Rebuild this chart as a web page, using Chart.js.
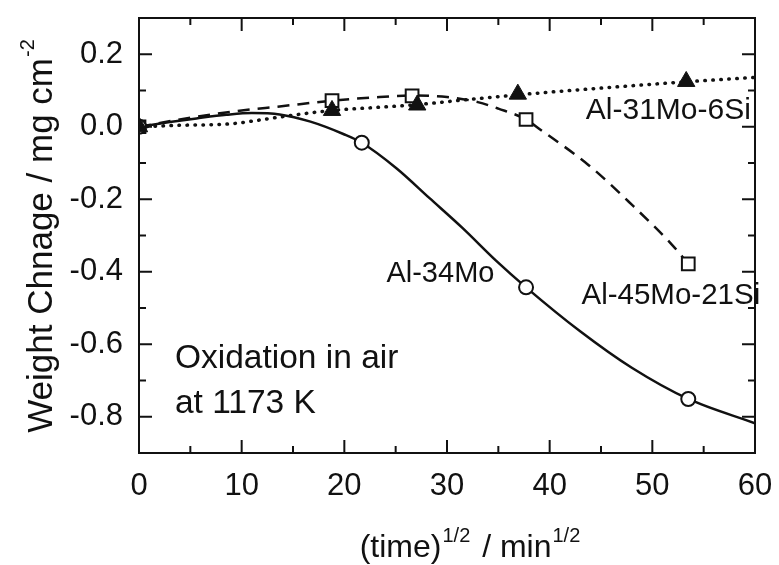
<!DOCTYPE html>
<html lang="en">

<head>
    <meta charset="UTF-8">
    <title>Weight change</title>
    <script src="https://cdn.jsdelivr.net/npm/chart.js@4.4.0/dist/chart.umd.min.js"></script>
    <style>
        html,
        body {
            margin: 0;
            background: #fff;
        }

        #wrap {
            width: 779px;
            height: 565px;
        }
    </style>
</head>

<body>
    <div id="wrap">
        <canvas id="myChart" width="779" height="565"></canvas>
    </div>
    <script>
        // axis ticks
        const xTicks = [0, 10, 20, 30, 40, 50, 60];
        const xMinor = [5, 15, 25, 35, 45, 55];
        const yTicks = [-0.8, -0.6, -0.4, -0.2, 0.0, 0.2];
        const yMinor = [-0.7, -0.5, -0.3, -0.1, 0.1];

        // measured points (x = sqrt time, y = weight change)
        const mo34X = [0, 21.7, 37.7, 53.5];
        const mo34Y = [0, -0.044, -0.443, -0.751];
        const mo45X = [0, 18.8, 26.6, 37.7, 53.5];
        const mo45Y = [0, 0.072, 0.085, 0.02, -0.378];
        const mo31X = [0, 18.8, 27.1, 36.9, 53.3];
        const mo31Y = [0, 0.045, 0.06, 0.09, 0.125];

        // fitted curves
        const fit34X = [0, 3, 5.6, 8.5, 11, 13.7, 16.7, 19.9, 21.7, 25.1, 28.3, 31.5, 34.8, 37.7, 43, 48, 53.5, 60];
        const fit34Y = [0, 0.013, 0.023, 0.033, 0.038, 0.034, 0.014, -0.02, -0.044, -0.115, -0.197, -0.279, -0.37, -0.443, -0.565, -0.665, -0.751, -0.818];
        const fit45X = [0, 5, 10, 13.7, 18.8, 22.5, 26.6, 30, 33, 35, 37.7, 39, 43.8, 48, 51.9, 53.5];
        const fit45Y = [0, 0.025, 0.045, 0.056, 0.072, 0.08, 0.086, 0.082, 0.068, 0.05, 0.02, -0.006, -0.106, -0.215, -0.325, -0.378];
        const fit31X = [0, 4, 8.9, 12.1, 15, 18.8, 23, 27.1, 32, 36.9, 42, 47, 53.3, 60];
        const fit31Y = [0, 0.004, 0.008, 0.02, 0.032, 0.045, 0.053, 0.061, 0.075, 0.088, 0.1, 0.111, 0.124, 0.136];

        const ink = '#111';
        const pts = (xs, ys) => xs.map((v, i) => ({ x: v, y: ys[i] }));

        // text placed in data coordinates
        const notes = [
            { text: 'Al-31Mo-6Si', x: 59.6, y: 0.045, align: 'right', size: 30 },
            { text: 'Al-34Mo', x: 24.1, y: -0.406, align: 'left', size: 29 },
            { text: 'Al-45Mo-21Si', x: 43.1, y: -0.466, align: 'left', size: 29.5 },
            { text: 'Oxidation in air', x: 3.5, y: -0.641, align: 'left', size: 33.5 },
            { text: 'at 1173 K', x: 3.5, y: -0.764, align: 'left', size: 33.5 }
        ];

        const fontName = '"Liberation Sans", Arial, sans-serif';

        // draws pieces of text, some raised as superscripts
        function drawParts(ctx, parts, x, y) {
            let cx = x;
            parts.forEach(p => {
                ctx.font = p.size + 'px ' + fontName;
                ctx.fillText(p.t, cx, y - (p.up || 0));
                cx += ctx.measureText(p.t).width + (p.gap || 0);
            });
        }
        function partsWidth(ctx, parts) {
            let w = 0;
            parts.forEach(p => {
                ctx.font = p.size + 'px ' + fontName;
                w += ctx.measureText(p.t).width + (p.gap || 0);
            });
            return w;
        }

        const framePlugin = {
            id: 'framePlugin',
            afterDraw(chart) {
                const { ctx, chartArea: a, scales: { x, y } } = chart;
                ctx.save();
                ctx.strokeStyle = ink;
                ctx.lineWidth = 2;
                ctx.strokeRect(a.left, a.top, a.right - a.left, a.bottom - a.top);

                function seg(x1, y1, x2, y2) {
                    ctx.beginPath();
                    ctx.moveTo(x1, y1);
                    ctx.lineTo(x2, y2);
                    ctx.stroke();
                }
                xTicks.forEach(v => {
                    const p = x.getPixelForValue(v);
                    seg(p, a.bottom, p, a.bottom - 13);
                    seg(p, a.top, p, a.top + 13);
                });
                xMinor.forEach(v => {
                    const p = x.getPixelForValue(v);
                    seg(p, a.bottom, p, a.bottom - 7);
                    seg(p, a.top, p, a.top + 7);
                });
                yTicks.forEach(v => {
                    const p = y.getPixelForValue(v);
                    seg(a.left, p, a.left + 13, p);
                    seg(a.right, p, a.right - 13, p);
                });
                yMinor.forEach(v => {
                    const p = y.getPixelForValue(v);
                    seg(a.left, p, a.left + 7, p);
                    seg(a.right, p, a.right - 7, p);
                });

                // annotations
                ctx.fillStyle = ink;
                ctx.textBaseline = 'middle';
                notes.forEach(n => {
                    ctx.font = n.size + 'px ' + fontName;
                    ctx.textAlign = n.align;
                    ctx.fillText(n.text, x.getPixelForValue(n.x), y.getPixelForValue(n.y));
                });

                // axis titles
                ctx.textAlign = 'left';
                ctx.textBaseline = 'alphabetic';
                const xt = [
                    { t: '(time)', size: 32, gap: 1 },
                    { t: '1/2', size: 20, up: 15, gap: 3 },
                    { t: ' / min', size: 32, gap: 1 },
                    { t: '1/2', size: 20, up: 15 }
                ];
                const xw = partsWidth(ctx, xt);
                drawParts(ctx, xt, 470 - xw / 2, 557);

                const yt = [
                    { t: 'Weight Chnage / mg cm', size: 35, gap: 1 },
                    { t: '-2', size: 20, up: 18 }
                ];
                const yw = partsWidth(ctx, yt);
                ctx.translate(52, 236);
                ctx.rotate(-Math.PI / 2);
                drawParts(ctx, yt, -yw / 2, 0);
                ctx.restore();
            }
        };

        const ctx = document.getElementById('myChart').getContext('2d');
        const chart = new Chart(ctx, {
            type: 'scatter',
            data: {
                datasets: [
                    {
                        label: 'Al-31Mo-6Si',
                        data: pts(mo31X, mo31Y),
                        pointStyle: 'triangle',
                        pointRadius: 10,
                        pointBackgroundColor: ink,
                        pointBorderColor: ink,
                        pointBorderWidth: 1,
                        order: 0
                    },
                    {
                        label: 'Al-34Mo',
                        data: pts(mo34X, mo34Y),
                        pointStyle: 'circle',
                        pointRadius: 7,
                        pointBackgroundColor: '#fff',
                        pointBorderColor: ink,
                        pointBorderWidth: 2,
                        order: 0
                    },
                    {
                        label: 'Al-45Mo-21Si',
                        data: pts(mo45X, mo45Y),
                        pointStyle: 'rect',
                        pointRadius: 9,
                        pointBackgroundColor: '#fff',
                        pointBorderColor: ink,
                        pointBorderWidth: 2,
                        order: 0
                    },
                    {
                        label: 'fit Al-34Mo',
                        data: pts(fit34X, fit34Y),
                        showLine: true,
                        pointRadius: 0,
                        borderColor: ink,
                        borderWidth: 2.5,
                        cubicInterpolationMode: 'monotone',
                        order: 1
                    },
                    {
                        label: 'fit Al-45Mo-21Si',
                        data: pts(fit45X, fit45Y),
                        showLine: true,
                        pointRadius: 0,
                        borderColor: ink,
                        borderWidth: 2.5,
                        borderDash: [12, 8],
                        cubicInterpolationMode: 'monotone',
                        order: 1
                    },
                    {
                        label: 'fit Al-31Mo-6Si',
                        data: pts(fit31X, fit31Y),
                        showLine: true,
                        pointRadius: 0,
                        borderColor: ink,
                        borderWidth: 3.5,
                        borderDash: [0.5, 7.5],
                        borderCapStyle: 'round',
                        cubicInterpolationMode: 'monotone',
                        order: 1
                    }
                ]
            },
            options: {
                responsive: false,
                animation: false,
                devicePixelRatio: 1,
                layout: { padding: { left: 0, top: 18, right: 24, bottom: 0 } },
                plugins: {
                    legend: { display: false },
                    tooltip: { enabled: false }
                },
                scales: {
                    x: {
                        type: 'linear',
                        min: 0,
                        max: 60,
                        grid: { display: false, drawTicks: false },
                        border: { display: false },
                        afterBuildTicks: s => { s.ticks = xTicks.map(v => ({ value: v })); },
                        afterFit: s => {
                            s.height = 112;
                            s.paddingLeft = 0;
                            s.paddingRight = 0;
                        },
                        ticks: {
                            color: ink,
                            padding: 15,
                            maxRotation: 0,
                            font: { family: fontName, size: 31 },
                            callback: v => String(v)
                        }
                    },
                    y: {
                        type: 'linear',
                        min: -0.9,
                        max: 0.3,
                        grid: { display: false, drawTicks: false },
                        border: { display: false },
                        afterBuildTicks: s => { s.ticks = yTicks.map(v => ({ value: v })); },
                        afterFit: s => {
                            s.width = 139;
                            s.paddingTop = 0;
                            s.paddingBottom = 0;
                        },
                        ticks: {
                            color: ink,
                            padding: 16,
                            font: { family: fontName, size: 31 },
                            callback: v => v.toFixed(1)
                        }
                    }
                }
            },
            plugins: [framePlugin]
        });
    </script>
</body>

</html>
